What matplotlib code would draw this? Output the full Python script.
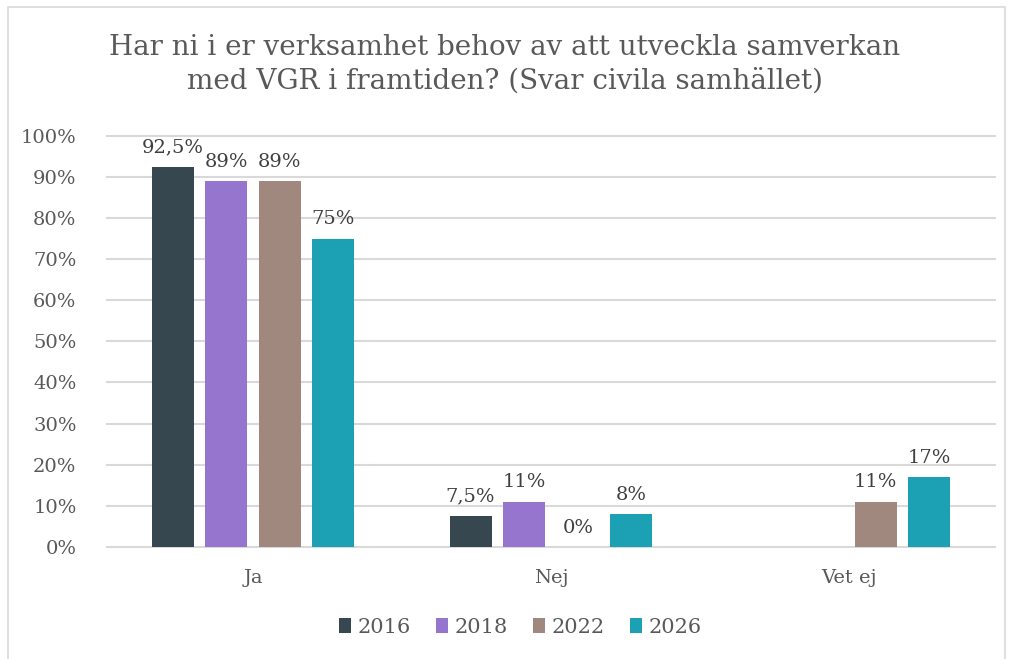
import numpy as np
import matplotlib.pyplot as plt

categories = ['Ja', 'Nej', 'Vet ej']
years = ['2016', '2018', '2022', '2026']
v2016 = [92.5, 7.5, np.nan]
v2018 = [89, 11, np.nan]
v2022 = [89, 0, 11]
v2026 = [75, 8, 17]
labels2016 = ['92,5%', '7,5%', '']
labels2018 = ['89%', '11%', '']
labels2022 = ['89%', '0%', '11%']
labels2026 = ['75%', '8%', '17%']

colors = ['#37474F', '#9575CD', '#A1887F', '#1CA0B4']
series = [v2016, v2018, v2022, v2026]
labels = [labels2016, labels2018, labels2022, labels2026]

plt.rcParams['font.family'] = ['DejaVu Serif']
fig = plt.figure(figsize=(10.1, 6.59), dpi=100)
ax = fig.add_axes([0.106, 0.170, 0.879, 0.624])

x = np.arange(len(categories))
w = 0.141
step = 0.18
for i, (vals, c, lab, yr) in enumerate(zip(series, colors, labels, years)):
    pos = x + (i - 1.5) * step
    bars = ax.bar(pos, np.array(vals) / 100, width=w, color=c, label=yr, zorder=3)
    for p, v, t in zip(pos, vals, lab):
        if t:
            ax.text(p, v / 100 + 0.025, t, ha='center', va='bottom',
                    fontsize=14, color='#404040')

ax.set_ylim(0, 1.0)
ax.set_xlim(-0.49, 2.49)
ax.set_yticks(np.arange(0, 1.01, 0.1))
ax.set_yticklabels(['%d%%' % v for v in range(0, 101, 10)])
ax.set_xticks(x)
ax.set_xticklabels(categories)
ax.tick_params(axis='both', length=0, labelsize=14, labelcolor='#595959')
ax.tick_params(axis='y', pad=22)
ax.tick_params(axis='x', pad=16)
ax.grid(axis='y', color='#d9d9d9', linewidth=1.5, zorder=0)
for g in ax.get_ygridlines():
    g.set_clip_on(False)
for s in ax.spines.values():
    s.set_visible(False)

fig.suptitle('Har ni i er verksamhet behov av att utveckla samverkan\nmed VGR i framtiden? (Svar civila samhället)',
             y=0.948, fontsize=20, color='#595959', linespacing=1.3)

fig.legend(loc='lower center', bbox_to_anchor=(0.515, 0.005), ncol=4, frameon=False,
           fontsize=15, labelcolor='#595959', handlelength=0.6, handleheight=0.7,
           handletextpad=0.3, columnspacing=1.2)

fig.patches.append(plt.Rectangle((0.008, -0.05), 0.987, 1.04, transform=fig.transFigure,
                                 fill=False, edgecolor='#d9d9d9', linewidth=1.2))

plt.savefig('out.png', dpi=100)
